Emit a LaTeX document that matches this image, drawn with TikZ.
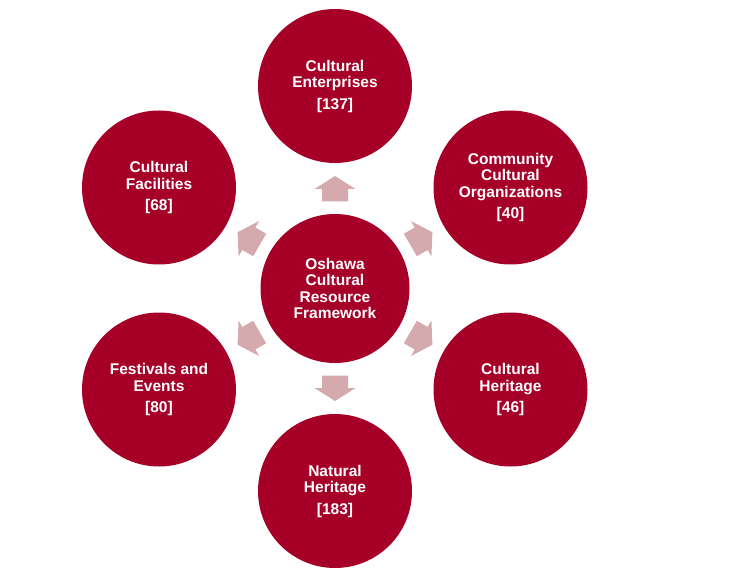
\documentclass[tikz,border=0pt]{standalone}
\usepackage{fontspec}
\setmainfont{Liberation Sans}
\definecolor{circ}{RGB}{166,0,40}
\definecolor{arr}{RGB}{213,170,174}
\tikzset{
  bubble/.style={circle, fill=circ, text=white, inner sep=0pt, minimum size=154pt,
    align=center, font=\bfseries\fontsize{15.5}{16.5}\selectfont},
  hub/.style={bubble, minimum size=149pt},
  blockarrow/.style={fill=arr}
}
\begin{document}
\begin{tikzpicture}[x=1pt,y=-1pt]
\useasboundingbox[fill=white] (0,0) rectangle (733,577);
\node[hub] (c) at (335,288.5) {Oshawa\\Cultural\\Resource\\Framework};
\node[bubble] (ent) at (335,86) {Cultural\\Enterprises\\[5pt][137]};
\node[bubble] (org) at (510.5,187.5) {Community\\Cultural\\Organizations\\[5pt][40]};
\node[bubble] (her) at (510.5,389.5) {Cultural\\Heritage\\[5pt][46]};
\node[bubble] (nat) at (335,491) {Natural\\Heritage\\[5pt][183]};
\node[bubble] (fes) at (159,389.5) {Festivals and\\Events\\[5pt][80]};
\node[bubble] (fac) at (159,187.5) {Cultural\\Facilities\\[5pt][68]};
\foreach \a in {90,30,-30,-90,-150,150}{
  \fill[blockarrow, shift={(c.center)}, rotate=\a]
    (87,-13) -- (99.5,-13) -- (99.5,-20.5) -- (112.5,0) -- (99.5,20.5) -- (99.5,13) -- (87,13) -- cycle;
}
\end{tikzpicture}
\end{document}
